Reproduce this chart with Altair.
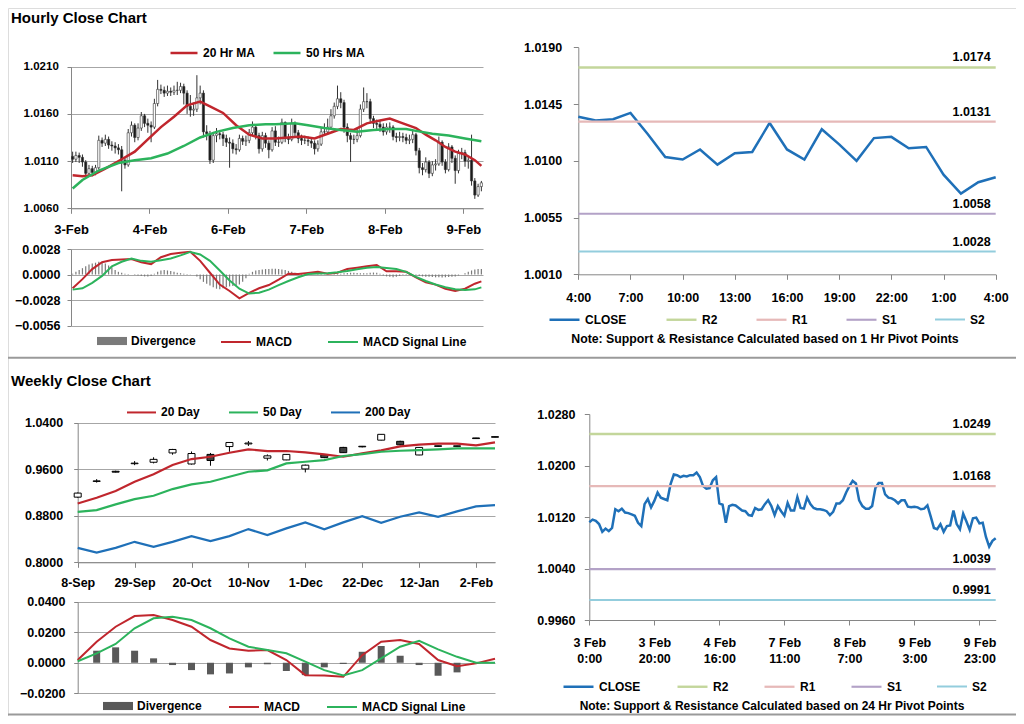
import json
import altair as alt
import pandas as pd

FONT = "Liberation Sans"
W, H = 1008, 708

RED = "#c0262d"
GREEN = "#2cb35c"
BLUE = "#1f70b8"
GRID = "#a6a6a6"
AXIS = "#868686"
DIV_PATH = "M-1,-0.27H1V0.27H-1Z"
LEG_HALF = 15

# ---------------- Hourly close chart (values in pips above 1.0000) ----------------
hour_day_labels = ["3-Feb", "4-Feb", "6-Feb", "7-Feb", "8-Feb", "9-Feb"]
hourly_first_open = 115
hourly_close = [112, 116, 114, 109, 97, 102, 98, 103, 132, 129,
                133, 127, 126, 124, 122, 111, 106, 140, 148, 135,
                145, 158, 150, 148, 146, 171, 186, 185, 182, 184,
                183, 185, 185, 189, 182, 168, 164, 165, 177, 182,
                141, 139, 111, 137, 139, 138, 134, 130, 129, 123,
                122, 134, 131, 132, 140, 146, 137, 123, 137, 129,
                122, 142, 130, 130, 151, 134, 133, 150, 140, 134,
                132, 132, 131, 129, 123, 128, 141, 141, 146, 158,
                168, 176, 172, 146, 137, 133, 133, 137, 165, 173,
                173, 155, 150, 149, 146, 141, 146, 146, 136, 135,
                136, 135, 132, 133, 138, 121, 103, 101, 109, 97,
                106, 107, 130, 109, 101, 125, 113, 100, 118, 119,
                110, 111, 89, 74, 83, 87]
hourly_high = [120, 120, 119, 117, 111, 106, 105, 106, 137, 135,
               138, 136, 131, 130, 128, 126, 114, 144, 152, 150,
               150, 162, 160, 155, 152, 176, 196, 191, 189, 190,
               188, 190, 194, 193, 192, 185, 180, 172, 201, 190,
               185, 148, 142, 141, 145, 143, 141, 138, 135, 133,
               128, 138, 137, 137, 144, 152, 148, 140, 141, 140,
               132, 146, 147, 136, 155, 152, 139, 155, 152, 143,
               138, 137, 136, 135, 132, 132, 145, 150, 155, 165,
               172, 190, 183, 175, 150, 140, 138, 145, 170, 188,
               182, 176, 158, 154, 153, 150, 150, 151, 148, 140,
               141, 140, 139, 138, 142, 140, 124, 108, 114, 111,
               110, 112, 136, 132, 112, 129, 127, 116, 122, 124,
               122, 115, 138, 92, 86, 89]
hourly_low = [108, 109, 108, 104, 93, 94, 94, 95, 101, 125,
              126, 123, 121, 118, 117, 78, 102, 104, 136, 130,
              132, 142, 146, 140, 130, 144, 168, 181, 178, 179,
              179, 180, 180, 182, 170, 160, 157, 158, 162, 170,
              135, 132, 107, 108, 130, 133, 126, 125, 103, 118,
              117, 120, 127, 126, 129, 137, 133, 118, 120, 124,
              113, 120, 126, 125, 128, 130, 128, 131, 135, 129,
              127, 128, 126, 124, 117, 120, 126, 137, 138, 144,
              155, 165, 166, 140, 130, 109, 128, 130, 135, 162,
              166, 150, 145, 144, 141, 137, 138, 140, 132, 130,
              131, 130, 128, 128, 129, 116, 97, 95, 98, 92,
              94, 100, 105, 105, 97, 99, 108, 86, 97, 112,
              104, 102, 84, 70, 72, 78]

ma20_idx = [0, 3, 6, 10, 15, 19, 23, 27, 31, 35, 39, 42, 46, 50, 54, 58, 62, 66,
            70, 74, 78, 82, 86, 90, 94, 97, 101, 105, 108, 111, 114, 117, 120, 123, 125]
ma20_pips = [95, 94, 95, 102, 112, 120, 133, 146, 157, 169, 173, 168, 161, 148, 138, 134, 134, 135,
             136, 134, 139, 144, 143, 150, 153, 155, 150, 145, 138, 132, 125, 120, 117, 111, 105]
ma50_idx = [0, 3, 8, 14, 19, 24, 29, 34, 39, 44, 49, 54, 59, 62, 68, 72, 77, 82,
            87, 92, 97, 102, 105, 110, 115, 120, 125]
ma50_pips = [81, 90, 100, 108, 111, 113, 118, 126, 135, 141, 145, 148, 149, 149, 150, 148, 145, 143,
             141, 143, 144, 144, 142, 139, 137, 134, 131]

# hourly MACD (units of 0.0001)
macd_idx = [0, 3, 6, 9, 12, 15, 18, 21, 24, 27, 30, 33, 36, 39, 42, 45, 48, 51, 54, 57, 60,
            63, 66, 69, 72, 75, 78, 81, 84, 87, 90, 93, 96, 99, 102, 105, 108, 111, 114, 117,
            120, 123, 125]
macd_h = [-15, -5, 6, 13.5, 16, 16.5, 17, 13.5, 11.5, 19, 22.5, 24, 25, 15, 2, -11, -18, -26, -20,
          -15, -11.5, -5.5, 1, 0.5, 1.8, 3, 1, 2, 6, 7.5, 9, 10.5, 3.5, 3.5, 3, -3, -8.5, -11,
          -15.5, -18, -15.5, -10, -7.5]
signal_h = [-16.5, -15, -9, -1.5, 9, 14, 17.5, 15, 14, 15.8, 17.6, 21, 24.8, 22, 15, 4.5, -6.5,
            -15.5, -20.8, -19.8, -16.5, -11.5, -7, -3, 0.5, 1.1, 1.5, 2.5, 4, 5.8, 7.5, 8.3, 7.2,
            6, 3, -2.5, -7, -10.8, -13.8, -16, -17, -16.2, -14]
divergence_h = [1, 3, 5, 7, 9, 11, 12, 13, 14, 13.5,
                12, 10, 8, 5, 3, 2, 1, 0.5, 0, -0.5,
                -1, -1.5, -2, -2, -1.5, 1, 3, 4.5, 5, 4.5,
                4, 3, 2, 1.5, 1, 0.5, 0.3, 0, -2, -5,
                -8, -10, -12, -14, -15.5, -16, -15, -14, -13, -12.5,
                -12, -11, -8, -4, 1, 3, 4.5, 5, 5.5, 6,
                6, 6.5, 6.5, 6, 5.5, 5, 4, 3, 2, 1.5,
                1, 0.5, 0.5, 0.3, 0, -0.5, -0.5, -0.3, 0, 0.3,
                0.5, 0.8, 1, 1.5, 1.8, 2, 2, 1.8, 1.5, 1.5,
                1.5, 2, 2.2, 2, 1, -1, -2, -2.5, -3, -2.5,
                -1.5, -0.5, 0.5, 0.3, 0, -0.5, -1.5, -2, -2.5, -2.5,
                -2.8, -3, -3, -3.2, -3, -2.8, -2.5, -2, -1, 0,
                1.5, 3, 4.5, 5.5, 6, 6]

# ---------------- 1 Hr pivot chart ----------------
one_hr_labels = ["4:00", "7:00", "10:00", "13:00", "16:00", "19:00", "22:00", "1:00", "4:00"]
one_hr_close = [1.0135, 1.0132, 1.0133, 1.0138, 1.0121, 1.0103, 1.0101, 1.0109, 1.0097, 1.0106,
                1.0107, 1.0130, 1.0109, 1.0101, 1.0125, 1.0113, 1.0100, 1.0118, 1.0119, 1.0110,
                1.0111, 1.0089, 1.0074, 1.0083, 1.0087]
pivot_names = ["R2", "R1", "S1", "S2"]
pivot_colors = ["#c3d69b", "#e6b9b8", "#b3a2c7", "#93cddd"]
pivot_1h = [1.0174, 1.0131, 1.0058, 1.0028]

# ---------------- Weekly close chart ----------------
week_labels = ["8-Sep", "29-Sep", "20-Oct", "10-Nov", "1-Dec", "22-Dec", "12-Jan", "2-Feb"]
week_open = [0.9120, 0.9390, 0.9565, 0.9695, 0.9720, 0.9880, 0.9690, 0.9855, 0.9990, 1.0035, 0.9790,
             0.9760, 0.9605, 0.9850, 0.9975, 0.9995, 1.0100, 1.0080, 0.9845, 1.0003, 1.0002, 1.0138, 1.0160]
week_high = [0.9200, 0.9430, 0.9575, 0.9740, 0.9805, 0.9950, 0.9905, 0.9880, 1.0065, 1.0085, 0.9855,
             0.9860, 0.9680, 0.9860, 0.9985, 1.0000, 1.0205, 1.0090, 0.9980, 1.0005, 1.0005, 1.0140, 1.0162]
week_low = [0.9110, 0.9370, 0.9545, 0.9670, 0.9700, 0.9850, 0.9680, 0.9660, 0.9900, 1.0000, 0.9750,
            0.9755, 0.9545, 0.9790, 0.9880, 0.9975, 1.0095, 1.0010, 0.9840, 0.9985, 0.9990, 1.0124, 1.0148]
week_close = [0.9190, 0.9400, 0.9550, 0.9705, 0.9770, 0.9940, 0.9870, 0.9750, 1.0060, 1.0050, 0.9830,
              0.9855, 0.9670, 0.9800, 0.9885, 0.9985, 1.0200, 1.0020, 0.9975, 0.9993, 0.9994, 1.0127, 1.0150]
ma20d = [0.9012, 0.9109, 0.9225, 0.9385, 0.9512, 0.9672, 0.9775, 0.9815, 0.9884, 0.9942, 0.9913,
         0.9913, 0.9890, 0.9856, 0.9815, 0.9873, 0.9925, 0.9994, 1.0022, 1.0039, 1.0039, 1.0011, 1.0063]
ma50d = [0.8868, 0.8897, 0.8996, 0.9087, 0.9144, 0.9259, 0.9340, 0.9385, 0.9471, 0.9557, 0.9581,
         0.9701, 0.9729, 0.9758, 0.9827, 0.9861, 0.9901, 0.9918, 0.9930, 0.9942, 0.9959, 0.9959, 0.9959]
ma200d = [0.8249, 0.8166, 0.8249, 0.8352, 0.8266, 0.8352, 0.8450, 0.8364, 0.8450, 0.8571, 0.8467,
          0.8583, 0.8686, 0.8566, 0.8686, 0.8794, 0.8679, 0.8783, 0.8858, 0.8783, 0.8875, 0.8962, 0.8982]
macd_w = [0.0018, 0.0138, 0.0236, 0.0306, 0.0313, 0.0280, 0.0236, 0.0149, 0.0094, 0.0079, 0.0083,
          0.0018, -0.0081, -0.0083, -0.0092, 0.0050, 0.0138, 0.0149, 0.0123, 0.0018, -0.0022, -0.0004, 0.0026]
signal_w = [0.0010, 0.0062, 0.0123, 0.0226, 0.0291, 0.0302, 0.0280, 0.0226, 0.0160, 0.0105, 0.0083,
            0.0062, 0.0007, -0.0048, -0.0083, -0.0048, 0.0029, 0.0105, 0.0144, 0.0088, 0.0039, 0.0000, 0.0000]
div_w = [0.0, 0.0079, 0.0101, 0.0079, 0.0029, -0.0015, -0.0048, -0.0076, -0.0070, -0.0030, -0.0010,
         -0.0054, -0.0081, -0.0030, -0.0008, 0.0072, 0.0110, 0.0046, -0.0015, -0.0085, -0.0063, 0.0, 0.0]

# ---------------- 24 Hr pivot chart (hourly closes above) ----------------
day_tick_labels = [["3 Feb", "0:00"], ["3 Feb", "20:00"], ["4 Feb", "16:00"], ["7 Feb", "11:00"],
                   ["8 Feb", "7:00"], ["9 Feb", "3:00"], ["9 Feb", "23:00"]]
pivot_24h = [1.0249, 1.0168, 1.0039, 0.9991]

title_top = "Hourly Close Chart"
title_bottom = "Weekly Close Chart"
note_1h = "Note: Support & Resistance Calculated based on 1 Hr Pivot Points"
note_24h = "Note: Support & Resistance Calculated based on 24 Hr Pivot Points"


# ---------------- helpers ----------------
def pip(p):
    return 1 + p / 10000.0


def lin(domain, rng):
    return alt.Scale(domain=domain, range=rng, nice=False, zero=False, padding=0)


def y_axis(x_pos, values, size, pad, grid=True, tick=4):
    return alt.Axis(orient="left", offset=-x_pos, values=values, format=".4f", grid=grid,
                    gridColor=GRID, gridWidth=1, domainColor=AXIS, tickColor=AXIS, tickSize=tick,
                    labelFont=FONT, labelFontSize=size, labelFontWeight="bold", labelColor="black",
                    labelPadding=pad, title=None, labelOverlap=False, labelFlush=False)


def x_axis(y_pos, values, expr, size, pad, tick=5, lineh=None):
    kw = {}
    if lineh is not None:
        kw["labelLineHeight"] = lineh
    return alt.Axis(orient="bottom", offset=y_pos - H, values=values, labelExpr=expr, grid=False,
                    domainColor=AXIS, tickColor=AXIS, tickSize=tick, labelFont=FONT, labelFontSize=size,
                    labelFontWeight="bold", labelColor="black", labelPadding=pad, title=None,
                    labelOverlap=False, labelFlush=False, **kw)


def leg(x, yc, colpad, size=900, sw=2.0, stype="stroke", fs=12):
    return alt.Legend(orient="none", legendX=x, legendY=yc - LEG_HALF, direction="horizontal",
                      title=None, symbolType=stype, symbolSize=size, symbolStrokeWidth=sw,
                      labelFont=FONT, labelFontSize=fs, labelFontWeight="bold", labelColor="black",
                      columnPadding=colpad, labelOffset=4, padding=0, gridAlign="each",
                      symbolOpacity=1)


layers = []

# ---------------- Panel A: hourly candles ----------------
xa = lin([-0.5, 125.5], [63, 475])
ya = lin([1.0060, 1.0210], [200.3, 58.7])
n = len(hourly_close)
opens = [hourly_first_open] + hourly_close[:-1]
cdf = pd.DataFrame({
    "i": list(range(n)),
    "o": [pip(v) for v in opens],
    "c": [pip(v) for v in hourly_close],
    "h": [pip(v) for v in hourly_high],
    "l": [pip(v) for v in hourly_low],
})
exprA = json.dumps(hour_day_labels) + "[round((datum.value + 0.5) / 24)]"
layers.append(alt.Chart(cdf).mark_rule(color="#333333", strokeWidth=1).encode(
    x=alt.X("i:Q", scale=xa, axis=x_axis(200.3, [-0.5 + 24 * k for k in range(6)], exprA, 13, 10)),
    y=alt.Y("l:Q", scale=ya, axis=y_axis(63, [1.0060, 1.0110, 1.0160, 1.0210], 11.5, 8.7)),
    y2="h:Q"))
layers.append(alt.Chart(cdf).mark_bar(size=2.2, stroke="#333333", strokeWidth=0.6).encode(
    x=alt.X("i:Q", scale=xa, axis=None),
    y=alt.Y("o:Q", scale=ya, axis=None),
    y2="c:Q",
    color=alt.condition("datum.c >= datum.o", alt.value("white"), alt.value("#1a1a1a"))))
maA = pd.DataFrame({
    "x": ma20_idx + ma50_idx,
    "v": [pip(p) for p in ma20_pips + ma50_pips],
    "s": ["20 Hr MA"] * len(ma20_idx) + ["50 Hrs MA"] * len(ma50_idx),
})
layers.append(alt.Chart(maA).mark_line(strokeWidth=2.5).encode(
    x=alt.X("x:Q", scale=xa, axis=None),
    y=alt.Y("v:Q", scale=ya, axis=None),
    color=alt.Color("s:N", scale=alt.Scale(domain=["20 Hr MA", "50 Hrs MA"], range=[RED, GREEN]),
                    legend=leg(161, 45, 12, size=729, sw=2.5))))

# ---------------- Panel B: hourly MACD ----------------
yb = lin([-0.0056, 0.0028], [317.7, 241])
divB = pd.DataFrame({"i": list(range(n)), "v": [d / 1e4 for d in divergence_h], "lbl": "Divergence"})
layers.append(alt.Chart(divB).mark_bar(size=1.2).encode(
    x=alt.X("i:Q", scale=xa, axis=None),
    y=alt.Y("v:Q", scale=yb, axis=y_axis(63, [-0.0056, -0.0028, 0.0, 0.0028], 12.5, 7)),
    y2=alt.datum(0),
    color=alt.Color("lbl:N", scale=alt.Scale(domain=["Divergence"], range=["#7a7a7a"]),
                    legend=leg(89, 333, 0, stype=DIV_PATH, sw=0))))
macdB = pd.DataFrame({
    "x": macd_idx + macd_idx,
    "v": [m / 1e4 for m in macd_h + signal_h],
    "s": ["MACD"] * len(macd_idx) + ["MACD Signal Line"] * len(macd_idx),
})
layers.append(alt.Chart(macdB).mark_line(strokeWidth=2).encode(
    x=alt.X("x:Q", scale=xa, axis=None),
    y=alt.Y("v:Q", scale=yb, axis=None),
    color=alt.Color("s:N", scale=alt.Scale(domain=["MACD", "MACD Signal Line"], range=[RED, GREEN]),
                    legend=leg(212, 333, 32))))

# ---------------- Panel C: 1 Hr pivot chart ----------------
xc = lin([0, 24], [570.3, 987.7])
yc = lin([1.0010, 1.0190], [266.3, 39.3])
last_c = len(one_hr_close) - 1
rowsC = [{"s": "CLOSE", "x": i, "v": v} for i, v in enumerate(one_hr_close)]
for name, v in zip(pivot_names, pivot_1h):
    rowsC += [{"s": name, "x": 0, "v": v}, {"s": name, "x": last_c, "v": v}]
dfC = pd.DataFrame(rowsC)
series_dom = ["CLOSE"] + pivot_names
exprC = json.dumps(one_hr_labels) + "[round(datum.value / 3)]"
layers.append(alt.Chart(dfC).mark_line().encode(
    x=alt.X("x:Q", scale=xc, axis=x_axis(266.3, list(range(0, 25, 3)), exprC, 12.5, 11.9)),
    y=alt.Y("v:Q", scale=yc, axis=y_axis(570.3, [1.0010, 1.0055, 1.0100, 1.0145, 1.0190], 12.5, 11.6,
                                          grid=False, tick=5)),
    color=alt.Color("s:N", scale=alt.Scale(domain=series_dom, range=[BLUE] + pivot_colors),
                    legend=leg(540, 310, 34)),
    strokeWidth=alt.StrokeWidth("s:N", scale=alt.Scale(domain=series_dom, range=[2.5, 2, 2, 2, 2]),
                                legend=None)))
labC = pd.DataFrame({"x": [last_c] * 4, "v": pivot_1h})
layers.append(alt.Chart(labC).mark_text(align="right", baseline="bottom", dx=-5, dy=-3, font=FONT,
                                        fontSize=12.5, fontWeight="bold", color="black").encode(
    x=alt.X("x:Q", scale=xc, axis=None),
    y=alt.Y("v:Q", scale=yc, axis=None),
    text=alt.Text("v:Q", format=".4f")))

# ---------------- Panel D: weekly candles ----------------
xd = lin([0, 22], [69.7, 487])
yd = lin([0.80, 1.04], [554.3, 414.7])
nw = len(week_close)
wdf = pd.DataFrame({"k": list(range(nw)), "o": week_open, "c": week_close, "h": week_high, "l": week_low})
exprD = json.dumps(week_labels) + "[round(datum.value / 3)]"
layers.append(alt.Chart(wdf).mark_rule(color="black", strokeWidth=1).encode(
    x=alt.X("k:Q", scale=xd, axis=x_axis(554.3, list(range(0, 22, 3)), exprD, 12.5, 9.2)),
    y=alt.Y("l:Q", scale=yd, axis=y_axis(69.7, [0.80, 0.88, 0.96, 1.04], 12.5, 11)),
    y2="h:Q"))
layers.append(alt.Chart(wdf).mark_bar(size=7, stroke="black", strokeWidth=1).encode(
    x=alt.X("k:Q", scale=xd, axis=None),
    y=alt.Y("o:Q", scale=yd, axis=None),
    y2="c:Q",
    color=alt.condition("datum.c >= datum.o", alt.value("white"), alt.value("#404040"))))
maD = pd.DataFrame({
    "x": list(range(nw)) * 3,
    "v": ma20d + ma50d + ma200d,
    "s": ["20 Day"] * nw + ["50 Day"] * nw + ["200 Day"] * nw,
})
layers.append(alt.Chart(maD).mark_line(strokeWidth=2.2).encode(
    x=alt.X("x:Q", scale=xd, axis=None),
    y=alt.Y("v:Q", scale=yd, axis=None),
    color=alt.Color("s:N", scale=alt.Scale(domain=["20 Day", "50 Day", "200 Day"], range=[RED, GREEN, BLUE]),
                    legend=leg(118, 403.7, 25, size=841))))

# ---------------- Panel E: weekly MACD ----------------
ye = lin([-0.02, 0.04], [685.3, 593.7])
divE = pd.DataFrame({"k": list(range(nw)), "v": div_w, "lbl": "Divergence"})
layers.append(alt.Chart(divE).mark_bar(size=7).encode(
    x=alt.X("k:Q", scale=xd, axis=None),
    y=alt.Y("v:Q", scale=ye, axis=y_axis(69.7, [-0.02, 0.0, 0.02, 0.04], 12.5, 8.7)),
    y2=alt.datum(0),
    color=alt.Color("lbl:N", scale=alt.Scale(domain=["Divergence"], range=["#595959"]),
                    legend=leg(95, 698, 0, stype=DIV_PATH, sw=0))))
macdE = pd.DataFrame({
    "x": list(range(nw)) * 2,
    "v": macd_w + signal_w,
    "s": ["MACD"] * nw + ["MACD Signal Line"] * nw,
})
layers.append(alt.Chart(macdE).mark_line(strokeWidth=2).encode(
    x=alt.X("x:Q", scale=xd, axis=None),
    y=alt.Y("v:Q", scale=ye, axis=None),
    color=alt.Color("s:N", scale=alt.Scale(domain=["MACD", "MACD Signal Line"], range=[RED, GREEN]),
                    legend=leg(220, 698, 23))))

# ---------------- Panel F: 24 Hr pivot chart ----------------
xf = lin([0, 125], [581.3, 987.7])
yf = lin([0.9960, 1.0280], [612, 406])
last_f = len(hourly_close) - 1
rowsF = [{"s": "CLOSE", "x": i, "v": pip(v)} for i, v in enumerate(hourly_close)]
for name, v in zip(pivot_names, pivot_24h):
    rowsF += [{"s": name, "x": 0, "v": v}, {"s": name, "x": last_f, "v": v}]
dfF = pd.DataFrame(rowsF)
exprF = json.dumps(day_tick_labels) + "[round(datum.value / 20)]"
layers.append(alt.Chart(dfF).mark_line().encode(
    x=alt.X("x:Q", scale=xf, axis=x_axis(612, list(range(0, 121, 20)), exprF, 12.5, 11.8, lineh=15.4)),
    y=alt.Y("v:Q", scale=yf, axis=y_axis(581.3, [0.9960, 1.0040, 1.0120, 1.0200, 1.0280], 12.5, 9.3,
                                          grid=False, tick=5)),
    color=alt.Color("s:N", scale=alt.Scale(domain=series_dom, range=[BLUE] + pivot_colors),
                    legend=leg(554, 677, 31)),
    strokeWidth=alt.StrokeWidth("s:N", scale=alt.Scale(domain=series_dom, range=[2.5, 2, 2, 2, 2]),
                                legend=None)))
labF = pd.DataFrame({"x": [last_f] * 4, "v": pivot_24h})
layers.append(alt.Chart(labF).mark_text(align="right", baseline="bottom", dx=-5, dy=-3, font=FONT,
                                        fontSize=12.5, fontWeight="bold", color="black").encode(
    x=alt.X("x:Q", scale=xf, axis=None),
    y=alt.Y("v:Q", scale=yf, axis=None),
    text=alt.Text("v:Q", format=".4f")))

# ---------------- decorations ----------------
def text_layer(txt, x, y, size, align="left", baseline="alphabetic"):
    return alt.Chart(pd.DataFrame({"t": [txt]})).mark_text(
        align=align, baseline=baseline, font=FONT, fontSize=size, fontWeight="bold", color="black"
    ).encode(x=alt.value(x), y=alt.value(y), text="t:N")


layers.append(text_layer(title_top, 3, 14.7, 15))
layers.append(text_layer(title_bottom, 3, 378, 15))
layers.append(text_layer(note_1h, 757, 331, 12.3, align="center", baseline="middle"))
layers.append(text_layer(note_24h, 764, 698, 12, align="center", baseline="middle"))
for ysep in [349.7, 706.5]:
    layers.append(alt.Chart(pd.DataFrame({"a": [0]})).mark_rule(color="#9a9a9a", strokeWidth=2).encode(
        x=alt.value(0), x2=alt.value(W), y=alt.value(ysep)))

chart = alt.layer(*layers).properties(
    width=W, height=H, padding=0, autosize=alt.AutoSizeParams(type="none")
).resolve_scale(
    x="independent", y="independent", color="independent", strokeWidth="independent"
).resolve_axis(
    x="independent", y="independent"
).resolve_legend(
    color="independent", strokeWidth="independent"
).configure_view(strokeWidth=0).configure(font=FONT)

chart.save("out.html", embed_options={"renderer": "svg", "actions": False})
